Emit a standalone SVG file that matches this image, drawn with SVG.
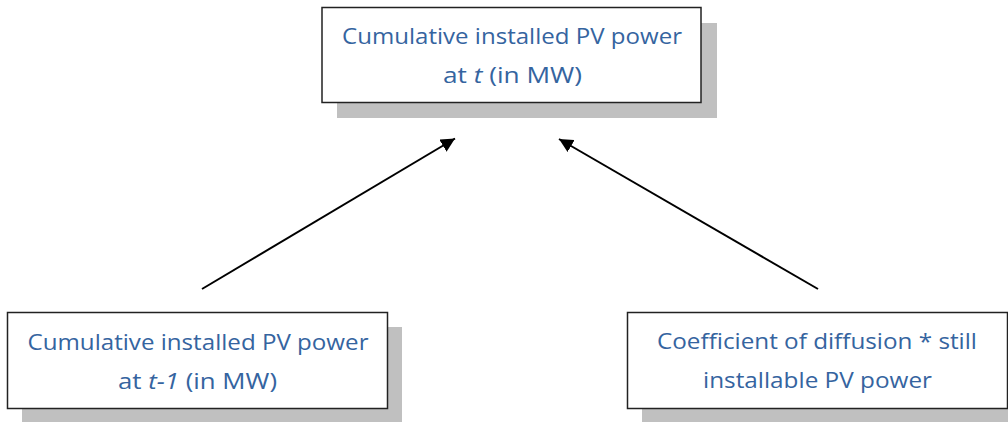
<svg xmlns="http://www.w3.org/2000/svg" width="1008" height="422" viewBox="0 0 1008 422">
<style>
.shadow{fill:#c0c0c0}
.box{fill:#fff;stroke:#222;stroke-width:1.5}
.t{font-family:"Open Sans","Liberation Sans",Arial,sans-serif;font-size:21px;fill:#35649f;text-anchor:middle}
.conn{stroke:#000;stroke-width:2;fill:none}
</style>
<defs>
<marker id="ah" viewBox="0 0 10 10" refX="10" refY="5" markerWidth="7" markerHeight="7" markerUnits="strokeWidth" orient="auto">
<path d="M0,0 L10,5 L0,10 z" fill="#000"/>
</marker>
</defs>
<rect width="1008" height="422" fill="#fff"/>
<g id="connectors">
<line class="conn" x1="202" y1="289" x2="455" y2="138.5" marker-end="url(#ah)"/>
<line class="conn" x1="818" y1="289" x2="559" y2="139" marker-end="url(#ah)"/>
</g>
<g id="node-top">
<rect class="shadow" x="337" y="23" width="380" height="95"/>
<rect class="box" x="322" y="7.5" width="379" height="95"/>
<text class="t" x="512" y="44" textLength="340" lengthAdjust="spacingAndGlyphs">Cumulative installed PV power</text>
<text class="t" x="512.5" y="83" textLength="139" lengthAdjust="spacingAndGlyphs">at <tspan font-style="italic">t</tspan> (in MW)</text>
</g>
<g id="node-left">
<rect class="shadow" x="22" y="327" width="380" height="95"/>
<rect class="box" x="7.5" y="312.5" width="380" height="96"/>
<text class="t" x="198" y="350" textLength="341" lengthAdjust="spacingAndGlyphs">Cumulative installed PV power</text>
<text class="t" x="197.5" y="389" textLength="159" lengthAdjust="spacingAndGlyphs">at <tspan font-style="italic">t-1</tspan> (in MW)</text>
</g>
<g id="node-right">
<rect class="shadow" x="642" y="327" width="380" height="95"/>
<rect class="box" x="627.5" y="312.5" width="380" height="96"/>
<text class="t" x="817" y="349" textLength="320" lengthAdjust="spacingAndGlyphs">Coefficient of diffusion * still</text>
<text class="t" x="817.5" y="388" textLength="229" lengthAdjust="spacingAndGlyphs">installable PV power</text>
</g>
</svg>
